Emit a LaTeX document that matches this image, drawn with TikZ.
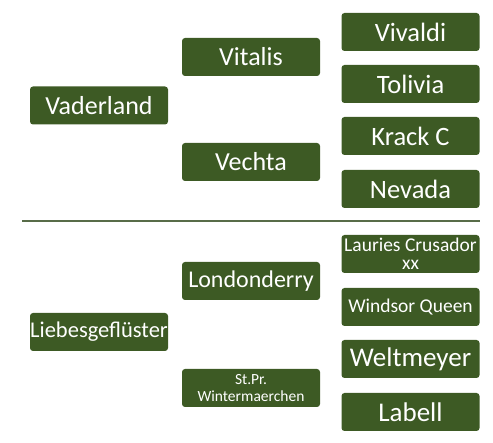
\documentclass[tikz,border=0pt]{standalone}
\usepackage{fontspec}
\setmainfont{Carlito}
\usetikzlibrary{positioning}
\definecolor{leafGreen}{RGB}{61,90,36}
\definecolor{ruleGreen}{RGB}{88,108,72}

\begin{document}
\begin{tikzpicture}[x=1pt,y=1pt,
    horse/.style={rectangle,rounded corners=3pt,fill=leafGreen,text=white,
        minimum width=138pt,minimum height=38pt,inner sep=0pt,align=center,
        font=\fontsize{26}{27}\selectfont},
    smallHorse/.style={horse,font=\fontsize{19.5}{18}\selectfont},
    tinyHorse/.style={horse,font=\fontsize{15.5}{17}\selectfont}]

        % --- Frame ---
        \useasboundingbox (0,0) rectangle (493,-443);

        % --- Upper pedigree ---
        \node[horse] (vaderland) at (99,-105.5) {Vaderland};
        \node[horse] (vitalis) at (251,-57) {Vitalis};
        \node[horse] (vechta) at (251,-162) {Vechta};

        \node[horse,font=\fontsize{26.5}{27}\selectfont] (vivaldi) at (410.5,-32) {Vivaldi};
        \node[horse,font=\fontsize{26.5}{27}\selectfont] (tolivia) at (410.5,-84) {Tolivia};
        \node[horse,font=\fontsize{26.5}{27}\selectfont] (krack) at (410.5,-136) {Krack C};
        \node[horse,font=\fontsize{26.5}{27}\selectfont] (nevada) at (410.5,-189) {Nevada};

        % separator
        \coordinate (ruleL) at (22,-221);
        \coordinate (ruleR) at (480,-221);
        \draw[ruleGreen,line width=2pt] (ruleL) -- (ruleR);

        % --- Lower pedigree ---
        \node[horse,font=\fontsize{22.5}{24}\selectfont] (liebes) at (99,-332) {Liebesgeflüster};
        \node[horse,font=\fontsize{24}{25}\selectfont] (london) at (251,-281) {Londonderry};
        \node[tinyHorse] (winter) at (251,-388) {St.Pr.\\Wintermaerchen};

        \node[smallHorse] (lauries) at (410.5,-254) {Lauries Crusador\\xx};
        \node[smallHorse] (windsor) at (410.5,-307) {Windsor Queen};
        \node[horse,font=\fontsize{27}{28}\selectfont] (weltmeyer) at (410.5,-359) {Weltmeyer};
        \node[horse,font=\fontsize{27}{28}\selectfont] (labell) at (410.5,-412) {Labell};

\end{tikzpicture}
\end{document}
